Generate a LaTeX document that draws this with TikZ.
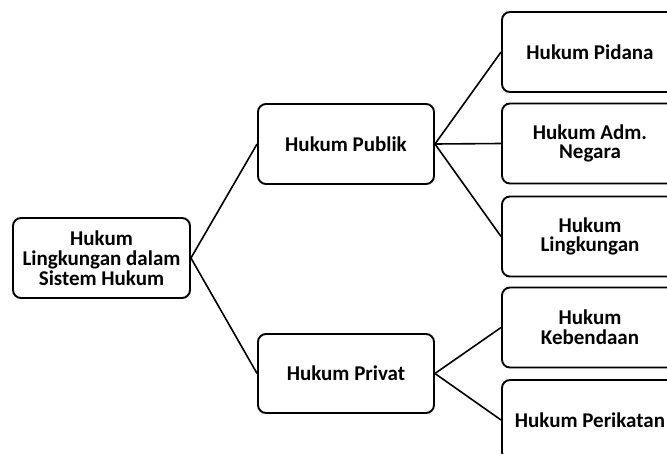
\documentclass[tikz,border=0pt]{standalone}
\usepackage{fontspec}
\setmainfont{Carlito}
\begin{document}
\begin{tikzpicture}[x=1pt,y=-1pt,
  box/.style={draw=black,line width=1.9pt,rounded corners=8pt,fill=white,
    minimum width=176pt,minimum height=80pt,align=center,inner sep=2pt,
    font=\fontsize{21}{19.8}\selectfont\bfseries},
  link/.style={draw=black,line width=1.6pt}]
\clip (0,0) rectangle (667,453);
\fill[white] (0,0) rectangle (667,453);
\node[box,minimum width=177pt] (root) at (101.5,258) {Hukum\\Lingkungan dalam\\Sistem Hukum};
\node[box] (pub) at (346,144) {Hukum Publik};
\node[box,minimum height=79pt] (priv) at (346,373.5) {Hukum Privat};
\node[box] (pid) at (590,52) {Hukum Pidana};
\node[box] (adm) at (590,143.5) {Hukum Adm.\\Negara};
\node[box] (lin) at (590,236.5) {Hukum\\Lingkungan};
\node[box] (keb) at (590,327.5) {Hukum\\Kebendaan};
\node[box] (per) at (590,420) {Hukum Perikatan};
\draw[link] (root.east) -- (pub.west);
\draw[link] (root.east) -- (priv.west);
\draw[link] (pub.east) -- (pid.west);
\draw[link] (pub.east) -- (adm.west);
\draw[link] (pub.east) -- (lin.west);
\draw[link] (priv.east) -- (keb.west);
\draw[link] (priv.east) -- (per.west);
\end{tikzpicture}
\end{document}
